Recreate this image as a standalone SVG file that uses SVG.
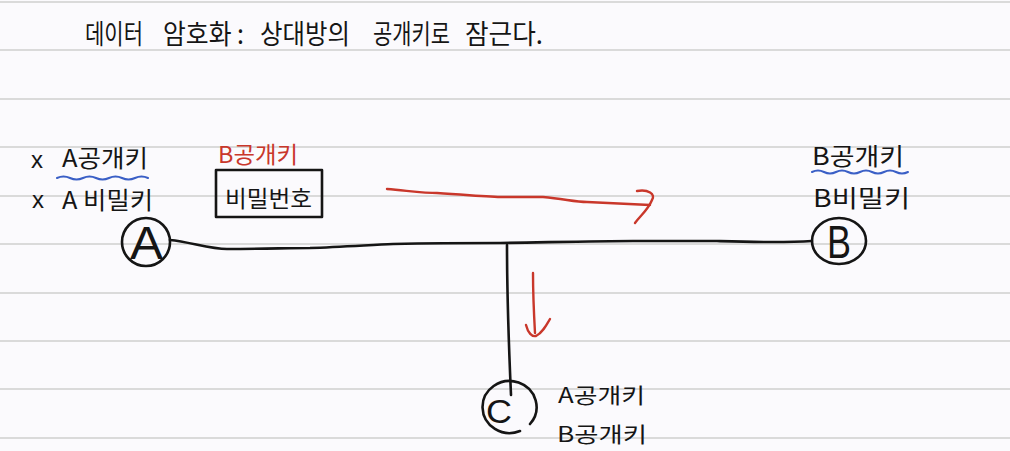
<svg xmlns="http://www.w3.org/2000/svg" width="1010" height="451" viewBox="0 0 1010 451">
<style>
.rule{stroke:#dadada;stroke-width:2}
.ink{fill:none;stroke:#151515;stroke-width:2.6;stroke-linecap:round;stroke-linejoin:round}
.red{fill:none;stroke:#c9372b;stroke-width:2.4;stroke-linecap:round;stroke-linejoin:round}
.blue{fill:none;stroke:#3a5fc6;stroke-width:2;stroke-linecap:round}
.t{font-family:"Noto Sans CJK KR","Noto Sans",sans-serif;fill:#151515}
.tr{font-family:"Noto Sans CJK KR","Noto Sans",sans-serif;fill:#c9372b}
.big{font-family:"Liberation Sans","DejaVu Sans",sans-serif;fill:#151515}
</style>
<rect width="1010" height="451" fill="#fbfafd"/>
<g id="rules">
<line class="rule" x1="0" y1="2" x2="1010" y2="2"/>
<line class="rule" x1="0" y1="50" x2="1010" y2="50"/>
<line class="rule" x1="0" y1="99" x2="1010" y2="99"/>
<line class="rule" x1="0" y1="147" x2="1010" y2="147"/>
<line class="rule" x1="0" y1="196" x2="1010" y2="196"/>
<line class="rule" x1="0" y1="244" x2="1010" y2="244"/>
<line class="rule" x1="0" y1="293" x2="1010" y2="293"/>
<line class="rule" x1="0" y1="341" x2="1010" y2="341"/>
<line class="rule" x1="0" y1="389" x2="1010" y2="389"/>
<line class="rule" x1="0" y1="438" x2="1010" y2="438"/>
</g>
<g id="title" font-size="27">
<text class="t" x="85" y="44" textLength="58" lengthAdjust="spacingAndGlyphs">데이터</text>
<text class="t" x="163" y="44" textLength="81" lengthAdjust="spacingAndGlyphs">암호화 :</text>
<text class="t" x="260" y="44" textLength="90" lengthAdjust="spacingAndGlyphs">상대방의</text>
<text class="t" x="373" y="44" textLength="77" lengthAdjust="spacingAndGlyphs">공개키로</text>
<text class="t" x="465" y="44" textLength="78" lengthAdjust="spacingAndGlyphs">잠근다.</text>
</g>
<g id="connectors">
<path class="ink" d="M170,240 C190,242 210,249 227,249 C260,249 290,248 310,248 C340,247 370,245 393,244 C440,243 480,243 500,243 C560,242 600,241 633,241 C680,241 700,241 717,241 C750,242 780,243 812,241"/>
<path class="ink" d="M507,245 C507,300 509,350 511,395"/>
<path class="red" d="M387,189 C410,191 425,193 437,193 C470,195 490,197 503,197 C520,197 530,197 543,197 C565,199 575,202 587,202 C610,203 630,204 650,205"/>
<path class="red" d="M637,191 C648,189 656,194 652,200 C648,210 640,216 635,223"/>
<path class="red" d="M533,273 C533,295 534,315 535,333"/>
<path class="red" d="M526,325 C528,333 532,337 536,336 C542,333 546,326 550,319"/>
</g>
<g id="node-A">
<circle class="ink" cx="146" cy="242" r="24"/>
<text class="big" x="130" y="259" font-size="46" textLength="33" lengthAdjust="spacingAndGlyphs">A</text>
<text class="big" x="31" y="168" font-size="24">x</text>
<text class="big" x="32" y="208" font-size="24">x</text>
<text class="t" x="62" y="167" font-size="24" textLength="86" lengthAdjust="spacingAndGlyphs">A공개키</text>
<path class="blue" d="M57,178 q6.5,-3 13,0 t13,0 t13,0 t13,0 t13,0 t13,0 t13,0"/>
<text class="t" x="62" y="209" font-size="24" textLength="91" lengthAdjust="spacingAndGlyphs">A 비밀키</text>
<text class="tr" x="218" y="163" font-size="23" textLength="80" lengthAdjust="spacingAndGlyphs">B공개키</text>
<rect class="ink" x="216" y="170" width="106" height="47"/>
<text class="t" x="225" y="207" font-size="23" textLength="87" lengthAdjust="spacingAndGlyphs">비밀번호</text>
</g>
<g id="node-B">
<ellipse class="ink" cx="839" cy="241" rx="27" ry="23"/>
<text class="big" x="827" y="258" font-size="46" textLength="24" lengthAdjust="spacingAndGlyphs">B</text>
<text class="t" x="812" y="165" font-size="24" textLength="92" lengthAdjust="spacingAndGlyphs">B공개키</text>
<path class="blue" d="M812,172 q6,-3 12,0 t12,0 t12,0 t12,0 t12,0 t12,0 t12,0 t12,0"/>
<text class="t" x="813" y="207" font-size="24" textLength="97" lengthAdjust="spacingAndGlyphs">B비밀키</text>
</g>
<g id="node-C">
<path class="ink" d="M530,424 A27,26 0 1,0 520,431"/>
<text class="big" x="486" y="423" font-size="34" textLength="26" lengthAdjust="spacingAndGlyphs">C</text>
<text class="t" x="558" y="403" font-size="21" textLength="87" lengthAdjust="spacingAndGlyphs">A공개키</text>
<text class="t" x="557" y="442" font-size="21" textLength="90" lengthAdjust="spacingAndGlyphs">B공개키</text>
</g>
</svg>
